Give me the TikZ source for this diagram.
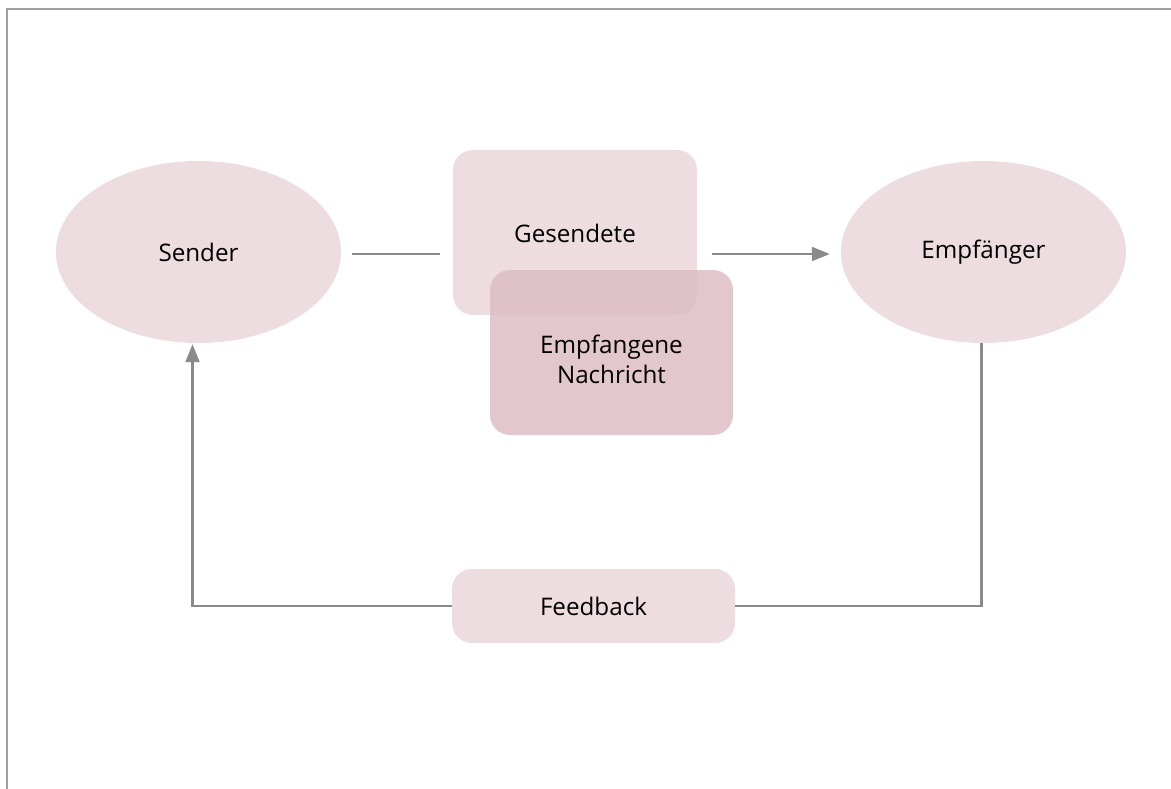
\documentclass[tikz,border=0pt]{standalone}
\usepackage{fontspec}
\setmainfont{Open Sans}
\usetikzlibrary{shapes.geometric, arrows.meta}

\definecolor{hell}{RGB}{237,221,225}
\definecolor{dunkel}{RGB}{221,189,196}
\definecolor{linie}{RGB}{138,138,138}
\definecolor{rahmen}{RGB}{160,160,160}

\tikzset{
  partner/.style={ellipse, fill=hell, minimum width=285pt, minimum height=182pt,
                  inner sep=0pt},
  nachricht/.style={rectangle, rounded corners=20pt, fill=hell, align=center,
                    inner sep=0pt},
  verbindung/.style={draw=linie, line width=2.2pt},
  spitze/.style={-{Triangle[length=18pt, width=14pt]}},
}

\begin{document}
\begin{tikzpicture}[x=1pt, y=-1pt, font=\fontsize{24.2}{30}\selectfont]
\useasboundingbox (0,0) rectangle (1171,789);
% Rahmen
\draw [rahmen, line width=2pt] (6.5,789) -- (6.5,9.5) -- (1171,9.5);

\node[partner] (sender) at (198.5,252) {Sender};
\node[partner] (empf) at (983.5,252) {Empfänger};

\node[nachricht, minimum width=244pt, minimum height=165pt]
  (gesendete) at (575,232.5) {};
\node[nachricht, fill=dunkel, fill opacity=0.85, minimum width=243pt, minimum height=165pt]
  (empfangene) at (611.5,352.5) {};
\node at ([yshift=-1pt]gesendete) {Gesendete};
\node[align=center] at ([yshift=-7pt]empfangene) {Empfangene\\Nachricht};

\node[nachricht, minimum width=283pt, minimum height=74pt]
  (feedback) at (593.5,606) {Feedback};

\draw [verbindung, shorten <=11pt, shorten >=13pt]
  ([yshift=-2pt]sender.east) -- ([yshift=-2pt]gesendete.west |- sender.east);
\draw [verbindung, spitze, shorten <=15pt, shorten >=11pt]
  ([yshift=-2pt]gesendete.east |- empf.west) -- ([yshift=-2pt]empf.west);
\draw [verbindung] ([xshift=-2pt]empf.south) |- (feedback.east);
\draw [verbindung, spitze, shorten >=1pt]
  (feedback.west) -| ([xshift=-6pt]sender.south);
\end{tikzpicture}
\end{document}
